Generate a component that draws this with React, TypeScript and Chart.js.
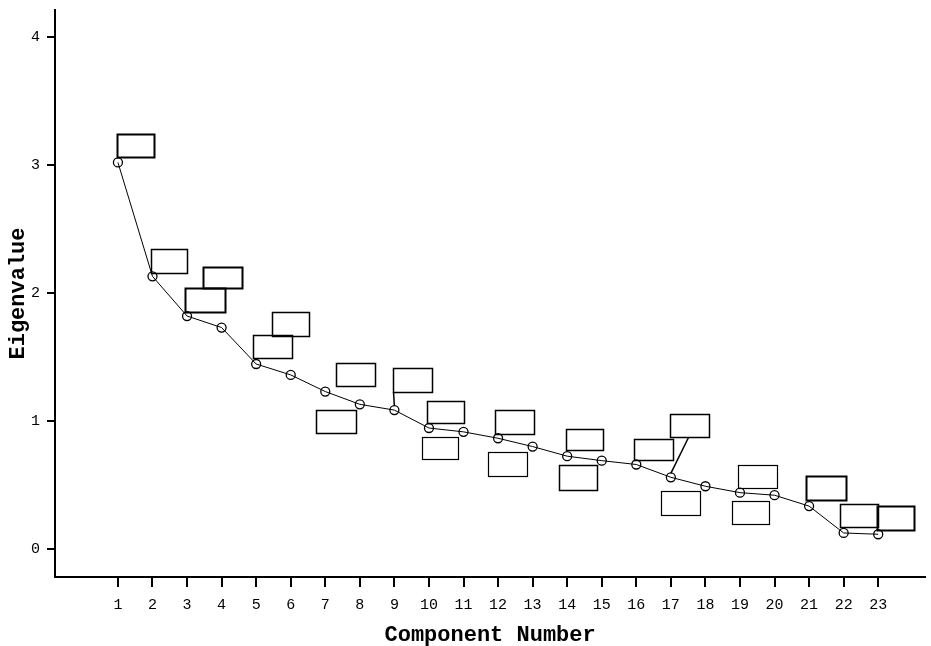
import React, { useEffect, useRef } from "react";
import { Chart, registerables } from "chart.js";

Chart.register(...registerables);

const components = [1, 2, 3, 4, 5, 6, 7, 8, 9, 10, 11, 12, 13, 14, 15, 16, 17, 18, 19, 20, 21, 22, 23];
const eigenvalues = [3.02, 2.13, 1.82, 1.73, 1.445, 1.36, 1.23, 1.13, 1.085, 0.945, 0.915, 0.865, 0.8, 0.725, 0.69, 0.66, 0.56, 0.49, 0.44, 0.42, 0.335, 0.125, 0.115];
const yTickValues = [0, 1, 2, 3, 4];
const xTickValues = components;

// empty label boxes (SPSS point labels), offsets in pixels relative to each point
const labelBoxes: { dx: number; dy: number; w: number; h: number; lw: number; leader?: number }[] = [
  { dx: -1, dy: -28, w: 37, h: 23, lw: 2 },
  { dx: -1, dy: -27, w: 36, h: 24, lw: 1.5 },
  { dx: -2, dy: -28, w: 40, h: 24, lw: 2 },
  { dx: -19, dy: -61, w: 39, h: 21, lw: 2 },
  { dx: -3, dy: -29, w: 39, h: 23, lw: 1.5 },
  { dx: -19, dy: -63, w: 37, h: 24, lw: 1.5 },
  { dx: -9, dy: 18, w: 40, h: 23, lw: 1.5 },
  { dx: -24, dy: -41, w: 39, h: 23, lw: 1.5 },
  { dx: -1, dy: -42, w: 39, h: 24, lw: 1.5, leader: 0 },
  { dx: -2, dy: -27, w: 37, h: 22, lw: 1.5 },
  { dx: -42, dy: 5, w: 36, h: 22, lw: 1.2 },
  { dx: -3, dy: -28, w: 39, h: 24, lw: 1.5 },
  { dx: -45, dy: 5, w: 39, h: 24, lw: 1.2 },
  { dx: -1, dy: -27, w: 37, h: 21, lw: 1.5 },
  { dx: -43, dy: 4, w: 38, h: 25, lw: 1.5 },
  { dx: -2, dy: -25, w: 39, h: 21, lw: 1.5 },
  { dx: -1, dy: -63, w: 39, h: 23, lw: 1.5, leader: 18 },
  { dx: -44, dy: 5, w: 39, h: 24, lw: 1.2 },
  { dx: -2, dy: -28, w: 39, h: 23, lw: 1.2 },
  { dx: -43, dy: 6, w: 37, h: 23, lw: 1.2 },
  { dx: -3, dy: -30, w: 40, h: 24, lw: 2 },
  { dx: -4, dy: -29, w: 38, h: 23, lw: 1.5 },
  { dx: -1, dy: -28, w: 37, h: 24, lw: 2 },
];

const boxPlugin = {
  id: "labelBoxes",
  afterDatasetsDraw(chart: any) {
    const meta = chart.getDatasetMeta(0);
    const ctx = chart.ctx;
    ctx.save();
    ctx.strokeStyle = "#000";
    meta.data.forEach((pt: any, i: number) => {
      const b = labelBoxes[i];
      if (!b) return;
      const x = Math.round(pt.x + b.dx) + 0.5;
      const y = Math.round(pt.y + b.dy) + 0.5;
      ctx.lineWidth = b.lw;
      ctx.strokeRect(x, y, b.w, b.h);
      if (b.leader !== undefined) {
        ctx.lineWidth = 1.5;
        ctx.beginPath();
        ctx.moveTo(x + b.leader, y + b.h);
        ctx.lineTo(pt.x, pt.y - 4);
        ctx.stroke();
      }
    });
    ctx.restore();
  },
};

const bgPlugin = {
  id: "bg",
  beforeDraw(chart: any) {
    const ctx = chart.ctx;
    ctx.save();
    ctx.fillStyle = "#fff";
    ctx.fillRect(0, 0, chart.width, chart.height);
    ctx.restore();
  },
};

export default function App() {
  const ref = useRef<HTMLCanvasElement>(null);
  useEffect(() => {
    if (!ref.current) return;
    const chart = new Chart(ref.current, {
      type: "line",
      data: {
        datasets: [
          {
            data: components.map((c, i) => ({ x: c, y: eigenvalues[i] })),
            borderColor: "#000",
            borderWidth: 1,
            pointRadius: 4.5,
            pointBorderWidth: 1.3,
            pointBorderColor: "#000",
            pointBackgroundColor: "rgba(255,255,255,0)",
            tension: 0,
          },
        ],
      },
      plugins: [bgPlugin, boxPlugin],
      options: {
        animation: false,
        responsive: false,
        events: [],
        layout: { padding: { top: 10, right: 1, left: 0, bottom: 0 } },
        plugins: { legend: { display: false }, tooltip: { enabled: false } },
        scales: {
          x: {
            type: "linear",
            min: -0.821,
            max: 24.36,
            afterBuildTicks: (s: any) => {
              s.ticks = xTickValues.map((v) => ({ value: v }));
            },
            afterFit: (s: any) => {
              s.height = 69;
              s.paddingLeft = 0;
              s.paddingRight = 0;
            },
            grid: { drawOnChartArea: false, drawTicks: true, tickLength: 10, color: "#000", lineWidth: 2 },
            border: { display: true, color: "#000", width: 2 },
            ticks: {
              color: "#000",
              padding: 9,
              maxRotation: 0,
              autoSkip: false,
              font: { family: "'Liberation Mono', monospace", size: 15 },
              callback: (v: any) => String(v),
            },
            title: {
              display: true,
              text: "Component Number",
              color: "#000",
              padding: { top: 0, bottom: 0 },
              font: { family: "'Liberation Mono', monospace", size: 22, weight: "bold", lineHeight: 1.0 },
            },
          },
          y: {
            type: "linear",
            min: -0.219,
            max: 4.211,
            afterBuildTicks: (s: any) => {
              s.ticks = yTickValues.map((v) => ({ value: v }));
            },
            afterFit: (s: any) => {
              s.width = 55;
              s.paddingTop = 0;
              s.paddingBottom = 0;
            },
            grid: { drawOnChartArea: false, drawTicks: true, tickLength: 8, color: "#000", lineWidth: 2 },
            border: { display: true, color: "#000", width: 2 },
            ticks: {
              color: "#000",
              padding: 7,
              font: { family: "'Liberation Mono', monospace", size: 15 },
              callback: (v: any) => String(v),
            },
            title: {
              display: true,
              text: "Eigenvalue",
              color: "#000",
              padding: { top: 5, bottom: 0 },
              font: { family: "'Liberation Mono', monospace", size: 22, weight: "bold" },
            },
          },
        },
      },
    });
    return () => chart.destroy();
  }, []);
  return (
    <div style={{ position: "fixed", left: 0, top: 0, width: 931, height: 646, background: "#fff" }}>
      <canvas ref={ref} width={931} height={646} style={{ display: "block" }} />
    </div>
  );
}
